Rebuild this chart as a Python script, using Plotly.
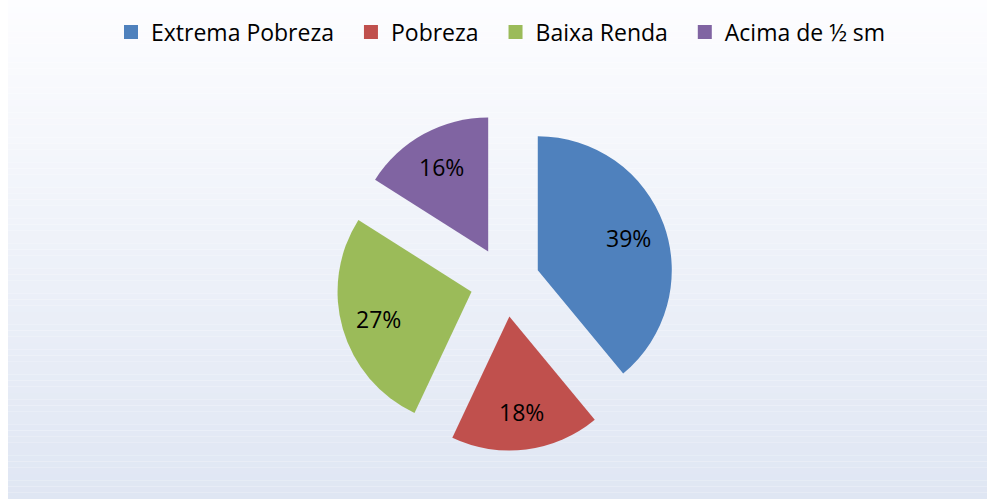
import math
import plotly.graph_objects as go

labels = ["Extrema Pobreza", "Pobreza", "Baixa Renda", "Acima de ½ sm"]
values = [39, 18, 27, 16]
colors = ["#4F81BD", "#C0504D", "#9BBB59", "#8064A2"]

W, H = 987, 499
FONT = "Open Sans"
FS_LEG = 23
FS_LAB = 23
PULL = 0.26
LABEL_R = 0.72  # label distance from exploded slice apex, as fraction of radius

# pie box (pixels)
cx_px, cy_px = 505, 282
box = 2 * 134 * (1 + PULL)

fig = go.Figure()
fig.add_trace(go.Pie(
    labels=labels, values=values, sort=False, direction="clockwise", rotation=0,
    marker=dict(colors=colors, line=dict(width=0)),
    pull=[PULL] * len(values),
    textinfo="none",
    domain=dict(x=[(cx_px - box / 2) / W, (cx_px + box / 2) / W],
                y=[1 - (cy_px + box / 2) / H, 1 - (cy_px - box / 2) / H]),
    showlegend=False,
    hoverinfo="label+percent",
))

# legend entries (square markers)
for i, (lab, col) in enumerate(zip(labels, colors)):
    pad = "\u00a0" * 2 if i < len(labels) - 1 else ""
    fig.add_trace(go.Scatter(
        x=[None], y=[None], mode="markers", name=lab + pad,
        marker=dict(symbol="square", size=14, color=col),
        hoverinfo="skip",
    ))

# percent labels placed along each slice's mid-angle
total = sum(values)
r = box / 2 / (1 + PULL)
annotations = []
cum = 0
for v in values:
    mid = (cum + v / 2) / total * 2 * math.pi
    cum += v
    dist = r * (PULL + LABEL_R)
    px = cx_px + dist * math.sin(mid)
    py = cy_px - dist * math.cos(mid)
    annotations.append(dict(
        x=px / W, y=1 - py / H, xref="paper", yref="paper",
        text="%d%%" % round(100 * v / total), showarrow=False,
        font=dict(family=FONT, size=FS_LAB, color="black"),
        xanchor="center", yanchor="middle",
    ))

# background vertical gradient (decoration)
shapes = []
n = 80
top = (253, 253, 255)
bot = (223, 230, 243)
for i in range(n):
    t = (i + 0.5) / n
    c = tuple(round(top[k] + (bot[k] - top[k]) * t) for k in range(3))
    shapes.append(dict(type="rect", xref="paper", yref="paper", layer="below",
                       x0=8 / W, x1=1, y0=1 - (i + 1) / n, y1=1 - i / n,
                       fillcolor="rgb(%d,%d,%d)" % c, line=dict(width=0)))

fig.update_layout(
    width=W, height=H, margin=dict(l=0, r=0, t=0, b=0),
    paper_bgcolor="white", plot_bgcolor="rgba(0,0,0,0)",
    xaxis=dict(visible=False), yaxis=dict(visible=False),
    shapes=shapes, annotations=annotations,
    font=dict(family=FONT, size=FS_LEG, color="black"),
    legend=dict(orientation="h", x=111 / W, xanchor="left", y=1 - 32 / H, yanchor="middle",
                bgcolor="rgba(0,0,0,0)", font=dict(family=FONT, size=FS_LEG),
                traceorder="normal", itemclick=False),
    showlegend=True,
)
fig.write_html("out.html", config={"displayModeBar": False},
               post_script="document.body.style.margin='0';")
